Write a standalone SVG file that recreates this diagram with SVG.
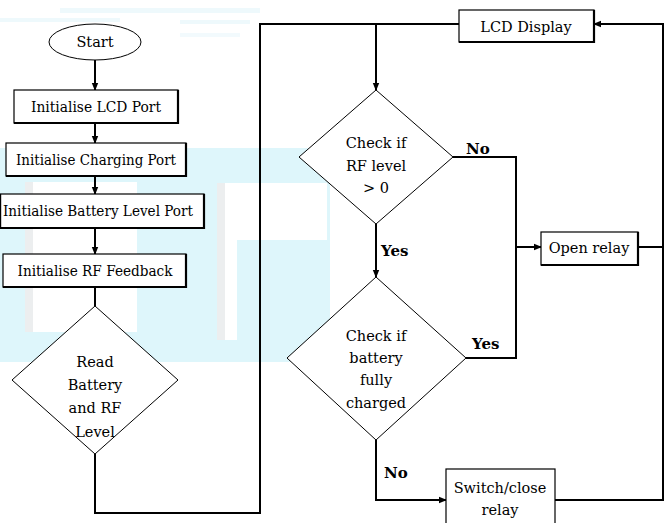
<svg xmlns="http://www.w3.org/2000/svg" width="665" height="523" viewBox="0 0 665 523">
<style>
.bx{fill:#fff;stroke:#000;stroke-width:1.2}
.sh{fill:none;stroke:#000;stroke-width:2.2}
.dm{fill:#fff;stroke:#000;stroke-width:1}
.cn{fill:none;stroke:#000;stroke-width:2}
.t{font-family:'DejaVu Serif','Liberation Serif',serif;font-size:14.5px;fill:#000;text-anchor:middle}
.lb{font-family:'DejaVu Serif','Liberation Serif',serif;font-size:15px;font-weight:bold;fill:#000}
</style>
<defs>
<marker id="ah" markerWidth="8" markerHeight="8" refX="7" refY="4" orient="auto" markerUnits="userSpaceOnUse">
<path d="M0,0.8 L8,4 L0,7.2 Z" fill="#000"/>
</marker>
</defs>
<rect width="665" height="523" fill="#fff"/>
<g id="watermark">
<rect x="60" y="8" width="200" height="5" fill="#eef9fc"/>
<rect x="0" y="18" width="120" height="4" fill="#eef9fc"/>
<rect x="180" y="20" width="70" height="4" fill="#eef9fc"/>
<rect x="180" y="33" width="60" height="4" fill="#f2fafd"/>
<rect x="0" y="148" width="330" height="214" fill="#def6fb"/>
<rect x="25" y="182" width="112" height="150" fill="#fff"/>
<rect x="25" y="182" width="8" height="150" fill="#eceeef"/>
<rect x="217" y="183" width="110" height="57" fill="#fff"/>
<rect x="217" y="240" width="20" height="100" fill="#fff"/>
<rect x="217" y="183" width="8" height="157" fill="#eceeef"/>
</g>
<g id="connectors">
<path class="cn" d="M95,60 V90" marker-end="url(#ah)"/>
<path class="cn" d="M95,123 V143" marker-end="url(#ah)"/>
<path class="cn" d="M95,176 V194" marker-end="url(#ah)"/>
<path class="cn" d="M95,228 V254" marker-end="url(#ah)"/>
<path class="cn" d="M95,287 V306"/>
<path class="cn" d="M95,454 V513 H260 V24 H459"/>
<path class="cn" d="M376,24 V90" marker-end="url(#ah)"/>
<path class="cn" d="M376,224 V277" marker-end="url(#ah)"/>
<path class="cn" d="M453,157 H516 V247 H541" marker-end="url(#ah)"/>
<path class="cn" d="M466,358 H516 V247"/>
<path class="cn" d="M376,440 V500 H446" marker-end="url(#ah)"/>
<path class="cn" d="M555,500 H663 V24 H594" marker-end="url(#ah)"/>
<path class="cn" d="M638,247 H663"/>
</g>
<g id="start">
<ellipse cx="95" cy="42" rx="46" ry="18" class="dm"/>
<text class="t" x="95" y="47">Start</text>
</g>
<g id="init-lcd">
<rect x="14" y="90" width="164" height="33" class="bx"/>
<path class="sh" d="M14,123 H178 V90"/>
<text class="t" x="96" y="112" textLength="130" lengthAdjust="spacingAndGlyphs">Initialise LCD Port</text>
</g>
<g id="init-charging">
<rect x="6" y="143" width="180" height="33" class="bx"/>
<path class="sh" d="M6,176 H186 V143"/>
<text class="t" x="96" y="165" textLength="160" lengthAdjust="spacingAndGlyphs">Initialise Charging Port</text>
</g>
<g id="init-battery">
<rect x="0.6" y="194" width="203.4" height="34" class="bx"/>
<path class="sh" d="M0,228 H204 V194"/>
<text class="t" x="98" y="216" textLength="190" lengthAdjust="spacingAndGlyphs">Initialise Battery Level Port</text>
</g>
<g id="init-rf">
<rect x="3" y="254" width="183" height="33" class="bx"/>
<path class="sh" d="M3,287 H186 V254"/>
<text class="t" x="95" y="276" textLength="155" lengthAdjust="spacingAndGlyphs">Initialise RF Feedback</text>
</g>
<g id="read">
<polygon points="95,306 178,380 95,454 12,380" class="dm"/>
<text class="t" x="95" y="367">Read</text>
<text class="t" x="95" y="390">Battery</text>
<text class="t" x="95" y="413">and RF</text>
<text class="t" x="95" y="437">Level</text>
</g>
<g id="lcd-display">
<rect x="459" y="10" width="135" height="32" class="bx"/>
<path class="sh" d="M459,42 H594 V10"/>
<text class="t" x="526" y="32">LCD Display</text>
</g>
<g id="check-rf">
<polygon points="376,90 453,157 376,224 299,157" class="dm"/>
<text class="t" x="376" y="148">Check if</text>
<text class="t" x="376" y="171">RF level</text>
<text class="t" x="376" y="193">&gt; 0</text>
<text class="lb" x="466" y="154">No</text>
<text class="lb" x="381" y="256">Yes</text>
</g>
<g id="open-relay">
<rect x="541" y="232" width="97" height="33" class="bx"/>
<path class="sh" d="M541,265 H638 V232"/>
<text class="t" x="589" y="253">Open relay</text>
</g>
<g id="check-battery">
<polygon points="376,277 466,358 376,440 287,358" class="dm"/>
<text class="t" x="376" y="341">Check if</text>
<text class="t" x="376" y="363">battery</text>
<text class="t" x="376" y="385">fully</text>
<text class="t" x="376" y="408">charged</text>
<text class="lb" x="472" y="349">Yes</text>
<text class="lb" x="384" y="478">No</text>
</g>
<g id="switch-relay">
<rect x="446" y="469" width="109" height="60" class="bx"/>
<text class="t" x="500" y="493">Switch/close</text>
<text class="t" x="500" y="515">relay</text>
</g>
</svg>
